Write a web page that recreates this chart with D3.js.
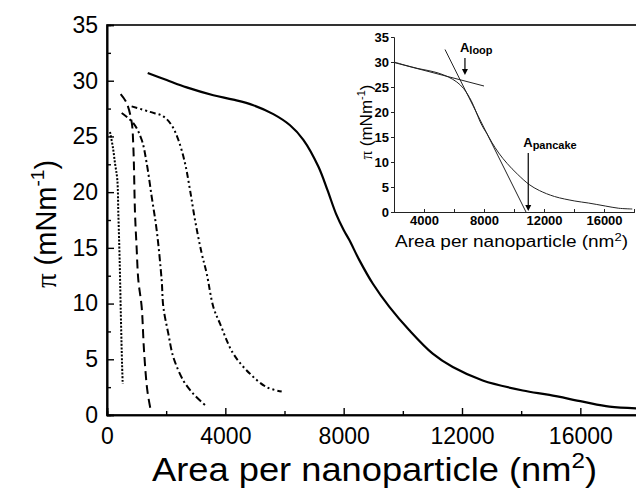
<!DOCTYPE html>
<html><head><meta charset="utf-8">
<script src="https://cdn.jsdelivr.net/npm/d3@7"></script>
<style>body{margin:0;background:#fff}svg{display:block}text{font-family:"Liberation Sans",Arial,sans-serif;fill:#000}</style>
</head><body>
<svg id="c" width="636" height="492"></svg>
<script>
// ---- data (area nm^2, surface pressure mN/m) ----
const solidX = [1376,2017,2694,3594,4270,4946,5623,6187,6637,7144,7450,7750,8000,8192,8530,8982,9545,10220,11010,11688,12700,14054,14955,16083,16983,17884];
const solidY = [30.7,30.06,29.4,28.7,28.3,27.8,27.0,26.0,24.7,22.3,20.2,18.0,16.6,15.7,13.9,11.8,9.7,7.6,5.5,4.3,3.1,2.2,1.8,1.2,0.75,0.6];
const dottedX = [101,200,270,349,383,416,440,462,490,510,530];
const dottedY = [25.4,24.0,22.6,21.1,18.1,15.1,12.5,9.7,6.5,4.5,2.8];
const dashedX = [462,664,833,890,947,1000,1059,1172,1251,1363,1476];
const dashedY = [28.8,28.0,26.3,24.1,18.1,15.1,12.1,9.7,5.8,2.2,0.45];
const dashDotX = [496,890,1172,1341,1510,1679,1848,1904,2073,2242,2580,2918,3313];
const dashDotY = [27.1,26.2,24.7,22.6,19.6,16.6,12.1,9.7,7.3,5.2,3.1,1.9,0.9];
const dashDotDotX = [833,1454,1904,2186,2411,2637,2806,2975,3201,3370,3594,3820,4270,4834,5398,5905];
const dashDotDotY = [27.7,27.2,26.8,26.0,24.7,22.6,20.2,17.5,14.5,12.7,9.7,8.2,5.5,3.7,2.5,2.1];
// inset: tangent lines and arrow markers
const tangentLoopX = [2000,8000], tangentLoopY = [29.9,25.2];
const tangentSteepX = [5400,10800], tangentSteepY = [32.5,0];
const arrowLabels = ["loop","pancake"];
const arrowX = [6730,10950];
const arrowTopY = [30.8,11.8];
const arrowTipY = [27.4,0.2];
const xTicks = [0,4000,8000,12000,16000];
const yTicks = [0,5,10,15,20,25,30,35];
const insetXTicks = [4000,8000,12000,16000];

const svg = d3.select("#c");
const zip = (xs, ys) => xs.map((x,i)=>[x, ys[i]]);

// ---- main chart ----
const x = d3.scaleLinear().domain([0,18000]).range([107,639.5]);
const y = d3.scaleLinear().domain([0,35]).range([415,25]);

svg.append("rect").attr("x",107).attr("y",25).attr("width",532.5).attr("height",390)
  .attr("fill","none").attr("stroke","#000").attr("stroke-width",1.6);

const gx = svg.append("g").attr("transform","translate(0,415)")
  .call(d3.axisBottom(x).tickValues(xTicks).tickSize(-7).tickPadding(13).tickFormat(d3.format("d")));
const gxm = svg.append("g").attr("transform","translate(0,415)")
  .call(d3.axisBottom(x).tickValues([2000,6000,10000,14000]).tickSize(-4).tickFormat(""));
const gy = svg.append("g").attr("transform","translate(107,0)")
  .call(d3.axisLeft(y).tickValues(yTicks).tickSize(-7).tickPadding(8));
const gym = svg.append("g").attr("transform","translate(107,0)")
  .call(d3.axisLeft(y).tickValues([2.5,7.5,12.5,17.5,22.5,27.5,32.5]).tickSize(-4).tickFormat(""));
[gx,gxm,gy,gym].forEach(g=>{
  g.select(".domain").attr("stroke","#000").attr("stroke-width",1.6);
  g.selectAll(".tick line").attr("stroke","#000").attr("stroke-width",1.4);
  g.selectAll(".tick text").attr("font-size",23).attr("font-family","Liberation Sans, Arial").attr("fill","#000");
});
gy.selectAll(".tick text").attr("dx","-1");

const lineC = d3.line().x(d=>x(d[0])).y(d=>y(d[1])).curve(d3.curveCatmullRom.alpha(0.5));
const series = [
  {d: zip(solidX, solidY), dash: null, w: 2.2},
  {d: zip(dottedX, dottedY), dash: "2,1.6", w: 2},
  {d: zip(dashedX, dashedY), dash: "9,5", w: 2},
  {d: zip(dashDotX, dashDotY), dash: "7,3,2,3", w: 2},
  {d: zip(dashDotDotX, dashDotDotY), dash: "6,3,2,3,2,3", w: 2}
];
series.forEach(s=>{
  svg.append("path").attr("d", lineC(s.d)).attr("fill","none").attr("stroke","#000")
    .attr("stroke-width", s.w).attr("stroke-dasharray", s.dash);
});

// axis titles
const xt = svg.append("text").attr("x",152).attr("y",481).attr("font-size",33)
  .attr("textLength",445).attr("lengthAdjust","spacingAndGlyphs");
xt.append("tspan").text("Area per nanoparticle (nm");
xt.append("tspan").attr("font-size",22).attr("dy",-13).text("2");
xt.append("tspan").attr("dy",13).text(")");
const yt = svg.append("text").attr("transform","translate(56,224) rotate(-90)").attr("text-anchor","middle").attr("font-size",29);
yt.append("tspan").attr("font-family","Liberation Serif, serif").text("π");
yt.append("tspan").text(" (mNm");
yt.append("tspan").attr("font-size",19).attr("dy",-12).text("-1");
yt.append("tspan").attr("dy",12).text(")");

// ---- inset ----
const ix = d3.scaleLinear().domain([2000,18000]).range([394,634]);
const iy = d3.scaleLinear().domain([0,35]).range([212,37]);
const ins = svg.append("g");
const igx = ins.append("g").attr("transform","translate(0,212)")
  .call(d3.axisBottom(ix).tickValues(insetXTicks).tickSize(-3).tickPadding(4).tickFormat(d3.format("d")));
const igxm = ins.append("g").attr("transform","translate(0,212)")
  .call(d3.axisBottom(ix).tickValues([6000,10000,14000]).tickSize(-3).tickFormat(""));
const igy = ins.append("g").attr("transform","translate(394,0)")
  .call(d3.axisLeft(iy).tickValues(yTicks).tickSize(3).tickPadding(2));
[igx,igxm,igy].forEach(g=>{
  g.select(".domain").attr("stroke","#222").attr("stroke-width",1);
  g.selectAll(".tick line").attr("stroke","#222");
  g.selectAll(".tick text").attr("font-size",13).attr("font-weight","bold").attr("font-family","Liberation Sans, Arial").attr("fill","#000");
});
const ilineC = d3.line().x(d=>ix(d[0])).y(d=>iy(d[1])).curve(d3.curveCatmullRom.alpha(0.5));
const insetCurve = zip(solidX, solidY).filter(d=>d[0]>2017);
insetCurve.unshift([2000,30.0]);
ins.append("path").attr("d", ilineC(insetCurve))
  .attr("fill","none").attr("stroke","#222").attr("stroke-width",1);
ins.append("path").attr("d", d3.line().x(d=>ix(d[0])).y(d=>iy(d[1]))(zip(tangentLoopX,tangentLoopY)))
  .attr("fill","none").attr("stroke","#222").attr("stroke-width",1);
ins.append("path").attr("d", d3.line().x(d=>ix(d[0])).y(d=>iy(d[1]))(zip(tangentSteepX,tangentSteepY)))
  .attr("fill","none").attr("stroke","#222").attr("stroke-width",1);
arrowLabels.forEach((lab,i)=>{
  const ax = ix(arrowX[i]), y0 = iy(arrowTopY[i]), y1 = iy(arrowTipY[i]);
  ins.append("line").attr("x1",ax).attr("x2",ax).attr("y1",y0).attr("y2",y1-5).attr("stroke","#000").attr("stroke-width",1.2);
  ins.append("path").attr("d",`M${ax-3},${y1-6}L${ax+3},${y1-6}L${ax},${y1}Z`).attr("fill","#000");
  const t = ins.append("text").attr("x", ax-5).attr("y", y0-6).attr("font-size",13).attr("font-weight","bold");
  t.append("tspan").text("A");
  t.append("tspan").attr("font-size",11).attr("dy",2).text(lab);
});
const ixt = ins.append("text").attr("x",395).attr("y",247).attr("font-size",16)
  .attr("textLength",233).attr("lengthAdjust","spacingAndGlyphs");
ixt.append("tspan").text("Area per nanoparticle (nm");
ixt.append("tspan").attr("font-size",11).attr("dy",-6).text("2");
ixt.append("tspan").attr("dy",6).text(")");
const iyt = ins.append("text").attr("transform","translate(372,122) rotate(-90)").attr("text-anchor","middle").attr("font-size",17);
iyt.append("tspan").attr("font-family","Liberation Serif, serif").text("π");
iyt.append("tspan").text(" (mNm");
iyt.append("tspan").attr("font-size",11).attr("dy",-7).text("-1");
iyt.append("tspan").attr("dy",7).text(")");
</script>
</body></html>
